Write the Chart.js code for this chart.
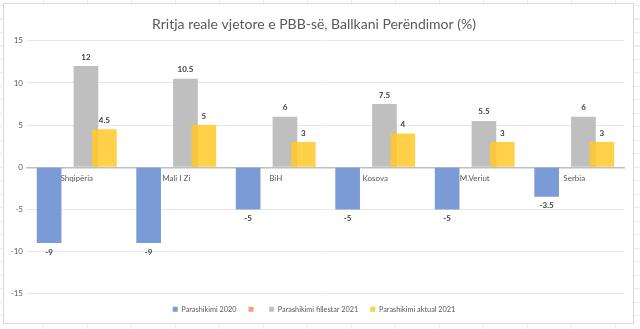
<!DOCTYPE html>
<html>
<head>
<meta charset="utf-8">
<script src="https://cdn.jsdelivr.net/npm/chart.js@4"></script>
<style>
  html, body { margin: 0; padding: 0; }
  body {
    width: 640px; height: 329px; overflow: hidden;
    background-color: #ffffff;
    background-image:
      repeating-linear-gradient(to right, transparent 0, transparent 43px, #ededed 43px, #ededed 44px),
      repeating-linear-gradient(to bottom, transparent 0, transparent 5px, #ededed 5px, #ededed 6px, transparent 6px, transparent 13.5px);
  }
  #box {
    position: absolute; left: 3px; top: 3px;
    width: 631px; height: 321px; box-sizing: border-box;
    border: 1px solid #d9d9d9; background: #ffffff;
  }
  canvas { display: block; }
</style>
</head>
<body>
<div id="box"><canvas id="gdpChart" width="629" height="319"></canvas></div>
<script>
const countries = ['Shqipëria', 'Mali I Zi', 'BiH', 'Kosova', 'M.Veriut', 'Serbia'];
const forecast2020 = [-9, -9, -5, -5, -5, -3.5];
const emptySeries = [0, 0, 0, 0, 0, 0];
const initial2021 = [12, 10.5, 6, 7.5, 5.5, 6];
const actual2021 = [4.5, 5, 3, 4, 3, 3];
const yTicks = [-15, -10, -5, 0, 5, 10, 15];

const textColor = '#595959';
const fontFamily = "Lato, 'Liberation Sans', sans-serif";

// the yellow bars sit over the grey ones, so they are drawn last
const yellowOnTop = {
    id: 'yellowOnTop',
    beforeDatasetDraw(chart, args) {
        if (args.index === 3) return false;
    },
    afterDatasetsDraw(chart) {
        chart.getDatasetMeta(3).controller.draw();
    }
};

// value labels above / below the bars
const barLabels = {
    id: 'barLabels',
    afterDatasetsDraw(chart) {
        const ctx = chart.ctx;
        ctx.save();
        ctx.font = 'bold 8px ' + fontFamily;
        ctx.fillStyle = '#404040';
        ctx.textAlign = 'center';
        ctx.textBaseline = 'middle';
        [0, 2, 3].forEach(i => {
            const meta = chart.getDatasetMeta(i);
            const values = chart.data.datasets[i].data;
            meta.data.forEach((bar, j) => {
                const v = values[j];
                const y = v >= 0 ? bar.y - 9 : bar.y + 9;
                ctx.fillText(String(v), bar.x, y);
            });
        });
        ctx.restore();
    }
};

const ctx = document.getElementById('gdpChart').getContext('2d');

let gdpChart = new Chart(ctx, {
    type: 'bar',
    data: {
        labels: countries,
        datasets: [
            { label: 'Parashikimi 2020', data: forecast2020, backgroundColor: '#7b9bd6' },
            { label: '', data: emptySeries, backgroundColor: '#eea474' },
            { label: 'Parashikimi fillestar 2021', data: initial2021, backgroundColor: '#bfbfbf' },
            { label: 'Parashikimi aktual 2021', data: actual2021, backgroundColor: 'rgba(255, 200, 40, 0.85)' }
        ]
    },
    options: {
        responsive: false,
        animation: false,
        categoryPercentage: 0.74,
        barPercentage: 1.34,
        layout: { padding: { left: 0, right: 9, top: 0, bottom: 0 } },
        plugins: {
            title: {
                display: true,
                text: 'Rritja reale vjetore e PBB-së, Ballkani Perëndimor (%)',
                color: textColor,
                font: { family: fontFamily, size: 14, weight: 'normal' },
                padding: { top: 12, bottom: 8 }
            },
            legend: {
                position: 'bottom',
                labels: {
                    boxWidth: 5,
                    boxHeight: 5,
                    padding: 12,
                    color: textColor,
                    font: { family: fontFamily, size: 7.3 }
                }
            },
            tooltip: { enabled: false }
        },
        scales: {
            x: {
                position: { y: 0 },
                grid: { display: false, drawTicks: false },
                border: { color: '#bfbfbf', width: 1.5 },
                ticks: {
                    color: textColor,
                    padding: 6,
                    font: { family: fontFamily, size: 8 }
                }
            },
            y: {
                min: -15,
                max: 15,
                afterBuildTicks: scale => { scale.ticks = yTicks.map(v => ({ value: v })); },
                afterFit: scale => { scale.width = 23; },
                grid: { color: '#e8e8e8', drawTicks: false },
                border: { display: false },
                ticks: {
                    color: textColor,
                    padding: 4,
                    font: { family: fontFamily, size: 8 }
                }
            }
        }
    },
    plugins: [yellowOnTop, barLabels]
});
</script>
</body>
</html>
